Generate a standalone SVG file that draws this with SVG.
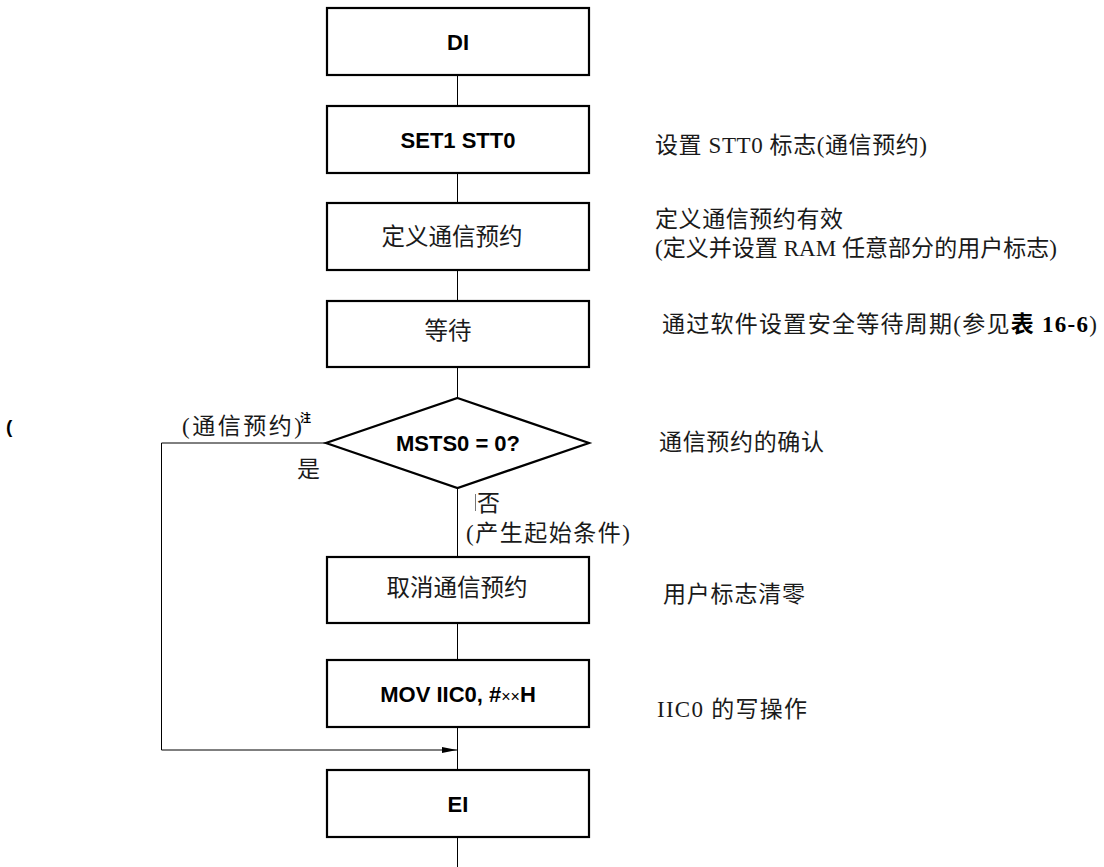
<svg xmlns="http://www.w3.org/2000/svg" width="1104" height="867" viewBox="0 0 1104 867">
<defs>
<marker id="arr" markerUnits="userSpaceOnUse" markerWidth="16" markerHeight="8" refX="15" refY="4" orient="auto">
<path d="M0,1 L15,4 L0,7 Z" fill="#000"/>
</marker>
<style>
.box{fill:#fff;stroke:#000;stroke-width:2.2}
.ln{fill:none;stroke:#000;stroke-width:1}
.bl{font-family:"Liberation Sans",Arial,sans-serif;font-weight:bold;font-size:22px;fill:#000;text-anchor:middle}
.cj{font-family:"Noto Sans CJK SC",sans-serif;font-size:23.5px;fill:#1a1a1a}
.cm{font-family:"Liberation Serif","Noto Sans CJK SC",serif;font-size:23px;fill:#1a1a1a}
.c{text-anchor:middle}
</style>
</defs>
<rect width="1104" height="867" fill="#fff"/>
<g id="connectors">
<path class="ln" d="M457.5,75 V106 M457.5,173 V203 M457.5,270 V301 M457.5,367 V398 M457.5,488 V557 M457.5,623 V660 M457.5,727 V770 M457.5,837 V867"/>
<path class="ln" d="M326,443 H161.5 V750 H457" marker-end="url(#arr)"/>
<line x1="475.5" y1="494" x2="475.5" y2="511" stroke="#777" stroke-width="1"/>
</g>
<g id="n_di"><rect class="box" x="327" y="8" width="262" height="67"/><text class="bl" x="458" y="49.5">DI</text></g>
<g id="n_set1"><rect class="box" x="327" y="106" width="262" height="67"/><text class="bl" x="458" y="147.5">SET1 STT0</text></g>
<g id="n_def"><rect class="box" x="327" y="203" width="262" height="67"/><text class="cj c" x="452" y="245">定义通信预约</text></g>
<g id="n_wait"><rect class="box" x="327" y="301" width="262" height="66"/><text class="cj c" x="448" y="339">等待</text></g>
<g id="n_dec"><polygon class="box" points="457.5,398 589,443 457.5,488 326,443"/><text class="bl" x="458" y="451">MSTS0 = 0?</text></g>
<g id="n_cancel"><rect class="box" x="327" y="557" width="262" height="66"/><text class="cj c" x="457" y="596">取消通信预约</text></g>
<g id="n_mov"><rect class="box" x="327" y="660" width="262" height="67"/><text class="bl" x="458" y="701.5">MOV IIC0, #<tspan font-weight="normal" font-size="16">××</tspan>H</text></g>
<g id="n_ei"><rect class="box" x="327" y="770" width="262" height="67"/><text class="bl" x="458" y="811.5">EI</text></g>
<g id="labels">
<text class="cm" x="655" y="153" textLength="272" lengthAdjust="spacing">设置 STT0 标志(通信预约)</text>
<text class="cm" x="655" y="227" textLength="188" lengthAdjust="spacing">定义通信预约有效</text>
<text class="cm" x="655" y="256" textLength="402" lengthAdjust="spacing">(定义并设置 RAM 任意部分的用户标志)</text>
<text class="cm" x="662" y="332" textLength="435" lengthAdjust="spacing">通过软件设置安全等待周期(参见<tspan font-weight="bold" fill="#000">表 16-6</tspan>)</text>
<text class="cm" x="659" y="450" textLength="165" lengthAdjust="spacing">通信预约的确认</text>
<text class="cm" x="663" y="602" textLength="142" lengthAdjust="spacing">用户标志清零</text>
<text class="cm" x="657" y="717" textLength="150" lengthAdjust="spacing">IIC0 的写操作</text>
<text class="cm" x="182" y="434" textLength="120" lengthAdjust="spacing">(通信预约)</text>
<text font-family="Noto Sans CJK SC,sans-serif" font-weight="bold" font-size="11" x="300" y="422" fill="#000">注</text>
<text class="cm" x="297" y="477">是</text>
<text class="cm" x="477" y="511">否</text>
<text class="cm" x="466" y="541" textLength="164" lengthAdjust="spacing">(产生起始条件)</text>
<text font-family="Liberation Sans,sans-serif" font-weight="bold" font-size="19" x="6" y="433" fill="#000">(</text>
</g>
</svg>
